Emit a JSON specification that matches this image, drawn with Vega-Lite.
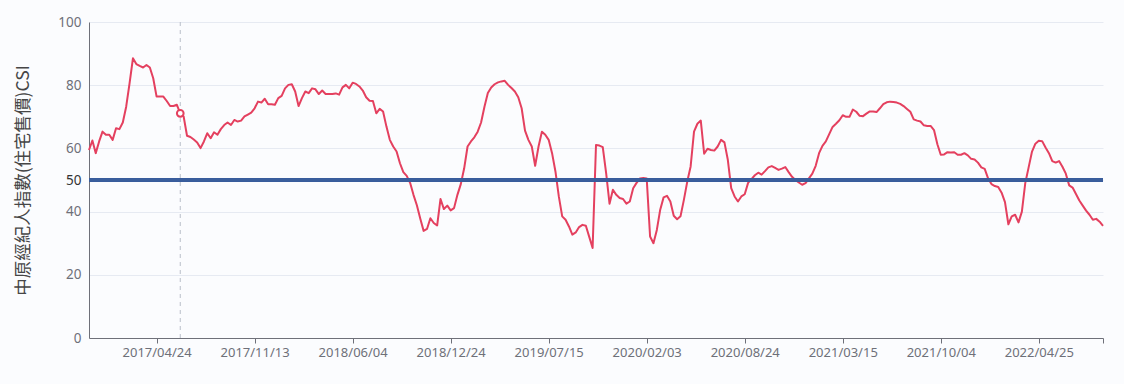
{
"$schema": "https://vega.github.io/schema/vega-lite/v6.json",
"width": 1014,
"height": 316,
"autosize": "none",
"padding": {"left": 89, "top": 22, "right": 21, "bottom": 46},
"background": "#fbfcfe",
"config": {"view": {"stroke": null}, "font": "Noto Sans"},
"data": {"values": [
{"d":"2016/12/05","v":59.5},{"d":"2016/12/12","v":62.5},{"d":"2016/12/19","v":58.5},{"d":"2016/12/26","v":62.2},
{"d":"2017/01/02","v":65.3},{"d":"2017/01/09","v":64.3},{"d":"2017/01/16","v":64.3},{"d":"2017/01/23","v":62.7},{"d":"2017/01/30","v":66.4},
{"d":"2017/02/06","v":66.1},{"d":"2017/02/13","v":68.2},{"d":"2017/02/20","v":73.2},{"d":"2017/02/27","v":80.6},
{"d":"2017/03/06","v":88.5},{"d":"2017/03/13","v":86.7},{"d":"2017/03/20","v":86.1},{"d":"2017/03/27","v":85.6},
{"d":"2017/04/03","v":86.4},{"d":"2017/04/10","v":85.6},{"d":"2017/04/17","v":82.2},{"d":"2017/04/24","v":76.4},
{"d":"2017/05/01","v":76.4},{"d":"2017/05/08","v":76.4},{"d":"2017/05/15","v":75.0},{"d":"2017/05/22","v":73.4},{"d":"2017/05/29","v":73.4},
{"d":"2017/06/05","v":73.8},{"d":"2017/06/12","v":71.1},{"d":"2017/06/19","v":70.1},{"d":"2017/06/26","v":64.0},
{"d":"2017/07/03","v":63.6},{"d":"2017/07/10","v":62.8},{"d":"2017/07/17","v":61.9},{"d":"2017/07/24","v":60.1},{"d":"2017/07/31","v":62.2},
{"d":"2017/08/07","v":64.8},{"d":"2017/08/14","v":63.2},{"d":"2017/08/21","v":65.1},{"d":"2017/08/28","v":64.3},
{"d":"2017/09/04","v":66.1},{"d":"2017/09/11","v":67.4},{"d":"2017/09/18","v":68.2},{"d":"2017/09/25","v":67.4},
{"d":"2017/10/02","v":69.0},{"d":"2017/10/09","v":68.5},{"d":"2017/10/16","v":68.8},{"d":"2017/10/23","v":70.1},{"d":"2017/10/30","v":70.7},
{"d":"2017/11/06","v":71.3},{"d":"2017/11/13","v":72.7},{"d":"2017/11/20","v":74.8},{"d":"2017/11/27","v":74.5},
{"d":"2017/12/04","v":75.7},{"d":"2017/12/11","v":74.0},{"d":"2017/12/18","v":74.0},{"d":"2017/12/25","v":73.8},
{"d":"2018/01/01","v":75.9},{"d":"2018/01/08","v":76.6},{"d":"2018/01/15","v":79.0},{"d":"2018/01/22","v":80.1},{"d":"2018/01/29","v":80.3},
{"d":"2018/02/05","v":78.0},{"d":"2018/02/12","v":73.4},{"d":"2018/02/19","v":75.9},{"d":"2018/02/26","v":78.0},
{"d":"2018/03/05","v":77.5},{"d":"2018/03/12","v":79.0},{"d":"2018/03/19","v":78.7},{"d":"2018/03/26","v":77.2},
{"d":"2018/04/02","v":78.3},{"d":"2018/04/09","v":77.2},{"d":"2018/04/16","v":77.2},{"d":"2018/04/23","v":77.2},{"d":"2018/04/30","v":77.4},
{"d":"2018/05/07","v":77.0},{"d":"2018/05/14","v":79.3},{"d":"2018/05/21","v":80.1},{"d":"2018/05/28","v":79.0},
{"d":"2018/06/04","v":80.8},{"d":"2018/06/11","v":80.4},{"d":"2018/06/18","v":79.6},{"d":"2018/06/25","v":78.3},
{"d":"2018/07/02","v":76.2},{"d":"2018/07/09","v":75.1},{"d":"2018/07/16","v":75.0},{"d":"2018/07/23","v":71.1},{"d":"2018/07/30","v":72.5},
{"d":"2018/08/06","v":71.7},{"d":"2018/08/13","v":66.9},{"d":"2018/08/20","v":62.7},{"d":"2018/08/27","v":60.6},
{"d":"2018/09/03","v":59.0},{"d":"2018/09/10","v":55.3},{"d":"2018/09/17","v":52.5},{"d":"2018/09/24","v":51.3},
{"d":"2018/10/01","v":49.1},{"d":"2018/10/08","v":45.3},{"d":"2018/10/15","v":42.0},{"d":"2018/10/22","v":37.8},{"d":"2018/10/29","v":33.9},
{"d":"2018/11/05","v":34.5},{"d":"2018/11/12","v":37.9},{"d":"2018/11/19","v":36.4},{"d":"2018/11/26","v":35.6},
{"d":"2018/12/03","v":44.0},{"d":"2018/12/10","v":40.8},{"d":"2018/12/17","v":41.9},{"d":"2018/12/24","v":40.4},{"d":"2018/12/31","v":41.1},
{"d":"2019/01/07","v":45.3},{"d":"2019/01/14","v":48.7},{"d":"2019/01/21","v":53.7},{"d":"2019/01/28","v":60.6},
{"d":"2019/02/04","v":62.2},{"d":"2019/02/11","v":63.5},{"d":"2019/02/18","v":65.3},{"d":"2019/02/25","v":68.2},
{"d":"2019/03/04","v":73.2},{"d":"2019/03/11","v":77.5},{"d":"2019/03/18","v":79.3},{"d":"2019/03/25","v":80.3},
{"d":"2019/04/01","v":80.9},{"d":"2019/04/08","v":81.2},{"d":"2019/04/15","v":81.4},{"d":"2019/04/22","v":80.1},{"d":"2019/04/29","v":79.1},
{"d":"2019/05/06","v":78.0},{"d":"2019/05/13","v":76.2},{"d":"2019/05/20","v":72.7},{"d":"2019/05/27","v":65.6},
{"d":"2019/06/03","v":62.7},{"d":"2019/06/10","v":60.6},{"d":"2019/06/17","v":54.5},{"d":"2019/06/24","v":60.6},
{"d":"2019/07/01","v":65.3},{"d":"2019/07/08","v":64.3},{"d":"2019/07/15","v":62.7},{"d":"2019/07/22","v":58.5},{"d":"2019/07/29","v":52.7},
{"d":"2019/08/05","v":44.8},{"d":"2019/08/12","v":38.5},{"d":"2019/08/19","v":37.4},{"d":"2019/08/26","v":35.3},
{"d":"2019/09/02","v":32.7},{"d":"2019/09/09","v":33.4},{"d":"2019/09/16","v":35.1},{"d":"2019/09/23","v":35.8},{"d":"2019/09/30","v":35.5},
{"d":"2019/10/07","v":32.0},{"d":"2019/10/14","v":28.5},{"d":"2019/10/21","v":61.1},{"d":"2019/10/28","v":60.9},
{"d":"2019/11/04","v":60.4},{"d":"2019/11/11","v":52.2},{"d":"2019/11/18","v":42.5},{"d":"2019/11/25","v":46.9},
{"d":"2019/12/02","v":45.3},{"d":"2019/12/09","v":44.3},{"d":"2019/12/16","v":44.0},{"d":"2019/12/23","v":42.5},{"d":"2019/12/30","v":43.2},
{"d":"2020/01/06","v":47.4},{"d":"2020/01/13","v":49.1},{"d":"2020/01/20","v":50.5},{"d":"2020/01/27","v":50.6},
{"d":"2020/02/03","v":50.5},{"d":"2020/02/10","v":32.1},{"d":"2020/02/17","v":30.0},{"d":"2020/02/24","v":34.2},
{"d":"2020/03/02","v":40.6},{"d":"2020/03/09","v":44.5},{"d":"2020/03/16","v":45.0},{"d":"2020/03/23","v":43.2},{"d":"2020/03/30","v":38.7},
{"d":"2020/04/06","v":37.6},{"d":"2020/04/13","v":38.5},{"d":"2020/04/20","v":43.7},{"d":"2020/04/27","v":49.5},
{"d":"2020/05/04","v":54.3},{"d":"2020/05/11","v":65.3},{"d":"2020/05/18","v":67.8},{"d":"2020/05/25","v":68.8},
{"d":"2020/06/01","v":58.3},{"d":"2020/06/08","v":59.9},{"d":"2020/06/15","v":59.5},{"d":"2020/06/22","v":59.3},{"d":"2020/06/29","v":60.6},
{"d":"2020/07/06","v":62.7},{"d":"2020/07/13","v":61.9},{"d":"2020/07/20","v":56.4},{"d":"2020/07/27","v":47.4},
{"d":"2020/08/03","v":44.8},{"d":"2020/08/10","v":43.2},{"d":"2020/08/17","v":44.8},{"d":"2020/08/24","v":45.5},{"d":"2020/08/31","v":49.1},
{"d":"2020/09/07","v":50.3},{"d":"2020/09/14","v":51.5},{"d":"2020/09/21","v":52.3},{"d":"2020/09/28","v":51.7},
{"d":"2020/10/05","v":52.8},{"d":"2020/10/12","v":54.0},{"d":"2020/10/19","v":54.4},{"d":"2020/10/26","v":53.8},
{"d":"2020/11/02","v":53.2},{"d":"2020/11/09","v":53.6},{"d":"2020/11/16","v":54.1},{"d":"2020/11/23","v":52.5},{"d":"2020/11/30","v":51.0},
{"d":"2020/12/07","v":50.0},{"d":"2020/12/14","v":49.2},{"d":"2020/12/21","v":48.5},{"d":"2020/12/28","v":49.0},
{"d":"2021/01/04","v":50.5},{"d":"2021/01/11","v":52.0},{"d":"2021/01/18","v":54.5},{"d":"2021/01/25","v":58.5},
{"d":"2021/02/01","v":60.8},{"d":"2021/02/08","v":62.2},{"d":"2021/02/15","v":64.5},{"d":"2021/02/22","v":66.8},
{"d":"2021/03/01","v":67.8},{"d":"2021/03/08","v":68.9},{"d":"2021/03/15","v":70.5},{"d":"2021/03/22","v":70.0},{"d":"2021/03/29","v":70.0},
{"d":"2021/04/05","v":72.3},{"d":"2021/04/12","v":71.6},{"d":"2021/04/19","v":70.3},{"d":"2021/04/26","v":70.2},
{"d":"2021/05/03","v":71.0},{"d":"2021/05/10","v":71.7},{"d":"2021/05/17","v":71.7},{"d":"2021/05/24","v":71.5},{"d":"2021/05/31","v":72.7},
{"d":"2021/06/07","v":74.0},{"d":"2021/06/14","v":74.6},{"d":"2021/06/21","v":74.8},{"d":"2021/06/28","v":74.7},
{"d":"2021/07/05","v":74.5},{"d":"2021/07/12","v":74.1},{"d":"2021/07/19","v":73.4},{"d":"2021/07/26","v":72.5},
{"d":"2021/08/02","v":71.6},{"d":"2021/08/09","v":69.2},{"d":"2021/08/16","v":68.8},{"d":"2021/08/23","v":68.5},{"d":"2021/08/30","v":67.3},
{"d":"2021/09/06","v":67.1},{"d":"2021/09/13","v":67.1},{"d":"2021/09/20","v":65.8},{"d":"2021/09/27","v":61.3},
{"d":"2021/10/04","v":58.0},{"d":"2021/10/11","v":58.1},{"d":"2021/10/18","v":58.8},{"d":"2021/10/25","v":58.7},
{"d":"2021/11/01","v":58.8},{"d":"2021/11/08","v":58.0},{"d":"2021/11/15","v":58.0},{"d":"2021/11/22","v":58.5},{"d":"2021/11/29","v":57.8},
{"d":"2021/12/06","v":56.7},{"d":"2021/12/13","v":56.5},{"d":"2021/12/20","v":55.5},{"d":"2021/12/27","v":54.0},
{"d":"2022/01/03","v":53.5},{"d":"2022/01/10","v":50.5},{"d":"2022/01/17","v":48.7},{"d":"2022/01/24","v":48.1},{"d":"2022/01/31","v":47.8},
{"d":"2022/02/07","v":46.0},{"d":"2022/02/14","v":43.0},{"d":"2022/02/21","v":36.0},{"d":"2022/02/28","v":38.5},
{"d":"2022/03/07","v":39.0},{"d":"2022/03/14","v":36.6},{"d":"2022/03/21","v":40.0},{"d":"2022/03/28","v":49.0},
{"d":"2022/04/04","v":54.0},{"d":"2022/04/11","v":59.0},{"d":"2022/04/18","v":61.5},{"d":"2022/04/25","v":62.4},
{"d":"2022/05/02","v":62.3},{"d":"2022/05/09","v":60.3},{"d":"2022/05/16","v":58.5},{"d":"2022/05/23","v":56.0},{"d":"2022/05/30","v":55.5},
{"d":"2022/06/06","v":56.0},{"d":"2022/06/13","v":54.2},{"d":"2022/06/20","v":52.0},{"d":"2022/06/27","v":48.3},
{"d":"2022/07/04","v":47.6},{"d":"2022/07/11","v":45.6},{"d":"2022/07/18","v":43.5},{"d":"2022/07/25","v":41.9},
{"d":"2022/08/01","v":40.3},{"d":"2022/08/08","v":39.0},{"d":"2022/08/15","v":37.4},{"d":"2022/08/22","v":37.7},{"d":"2022/08/29","v":36.8},
{"d":"2022/09/05","v":35.5}
]},
"layer": [
{
"mark": {"type": "line", "color": "#e4405f", "strokeWidth": 2, "strokeJoin": "round"},
"encoding": {
"x": {"field": "d", "type": "temporal",
"scale": {"domain": [{"year": 2016, "month": 12, "date": 5}, {"year": 2022, "month": 9, "date": 5}]},
"axis": {"title": null, "grid": false,
"values": [{"year": 2017, "month": 4, "date": 24}, {"year": 2017, "month": 11, "date": 13}, {"year": 2018, "month": 6, "date": 4}, {"year": 2018, "month": 12, "date": 24}, {"year": 2019, "month": 7, "date": 15}, {"year": 2020, "month": 2, "date": 3}, {"year": 2020, "month": 8, "date": 24}, {"year": 2021, "month": 3, "date": 15}, {"year": 2021, "month": 10, "date": 4}, {"year": 2022, "month": 4, "date": 25}, {"year": 2022, "month": 9, "date": 5}],
"labelExpr": "datum.value > time(datetime(2022, 6, 1)) ? '' : timeFormat(datum.value, '%Y/%m/%d')",
"labelFontSize": 13, "labelColor": "#6e7079", "labelFont": "Noto Sans",
"domainColor": "#6e7079", "tickColor": "#6e7079", "tickSize": 5, "labelPadding": 3,
"labelFlush": false, "labelOverlap": false}},
"y": {"field": "v", "type": "quantitative",
"scale": {"domain": [0, 100], "nice": false},
"axis": {"title": "中原經紀人指數(住宅售價)CSI", "titleFont": "Noto Sans CJK TC", "titleFontSize": 17.5, "titleFontWeight": "normal", "titleColor": "#464646", "titlePadding": 25,
"values": [0, 20, 40, 50, 60, 80, 100],
"labelFontSize": 13.5, "labelFont": "Noto Sans",
"labelColor": {"condition": {"test": "datum.value === 50", "value": "#333333"}, "value": "#6e7079"},
"ticks": false, "labelPadding": 8,
"domainColor": "#6e7079",
"gridColor": "#e6eaf2"}}
}
},
{
"mark": {"type": "rule", "color": "#3a5e9c", "strokeWidth": 2.5},
"encoding": {"y": {"datum": 50}}
},
{
"data": {"values": [{"d": "2017/06/12", "v": 71.1}]},
"mark": {"type": "rule", "color": "#b9bec9", "strokeWidth": 1, "strokeDash": [4, 4]},
"encoding": {"x": {"field": "d", "type": "temporal"}}
},
{
"data": {"values": [{"d": "2017/06/12", "v": 71.1}]},
"mark": {"type": "point", "shape": "circle", "filled": true, "fill": "#ffffff", "stroke": "#e4405f", "strokeWidth": 2, "size": 45, "opacity": 1},
"encoding": {"x": {"field": "d", "type": "temporal"}, "y": {"field": "v", "type": "quantitative"}}
}
]
}
